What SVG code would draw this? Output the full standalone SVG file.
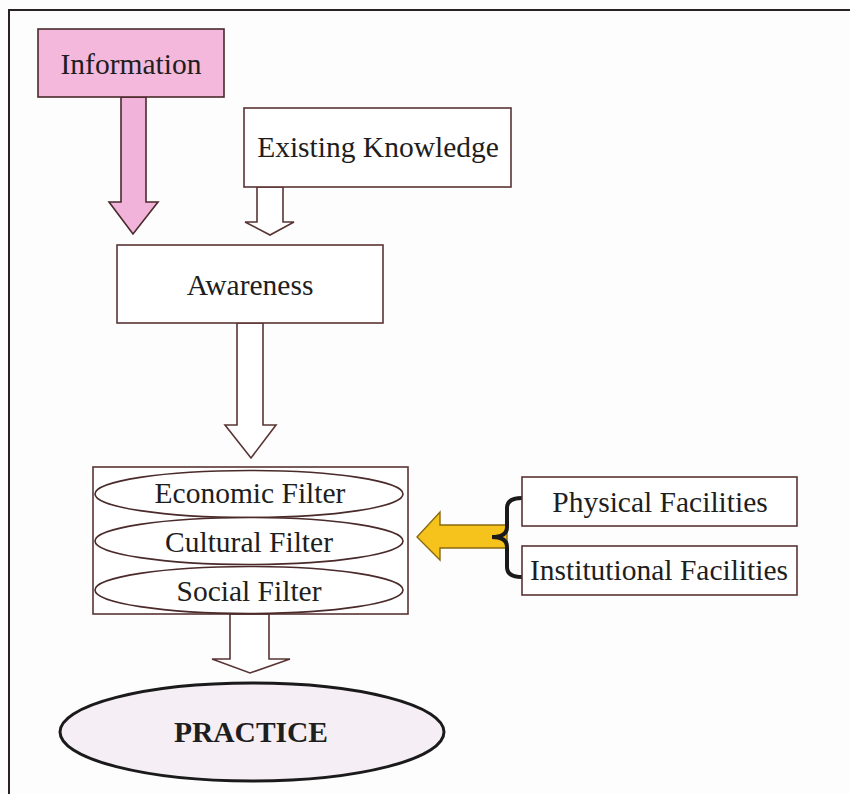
<svg xmlns="http://www.w3.org/2000/svg" width="850" height="794" viewBox="0 0 850 794">
  <style>
    .box { fill: #ffffff; stroke: #5a3434; stroke-width: 1.6; }
    .lbl { font-family: "Liberation Serif", "Times New Roman", serif; font-size: 29.5px; fill: #1e1e1e; text-anchor: middle; }
    .hollow { fill: #ffffff; stroke: #5a3434; stroke-width: 1.6; stroke-linejoin: miter; }
    .filter { fill: #ffffff; stroke: #4a2a2a; stroke-width: 1.6; }
  </style>
  <rect x="0" y="0" width="850" height="794" fill="#fdfdfd"/>
  <!-- frame: top and left rules -->
  <path d="M9,794 V10 H850" fill="none" stroke="#2a2222" stroke-width="2"/>

  <g id="connectors">
    <!-- Information to Awareness (pink block arrow) -->
    <path d="M121,97 H146 V202 H158 L133,234 L109,202 H121 Z" fill="#f2b3da" stroke="#4a2a2a" stroke-width="1.6"/>
    <!-- Existing Knowledge to Awareness -->
    <path class="hollow" d="M257,187 H283 V222 H294 L270,235 L245,222 H257 Z"/>
    <!-- Awareness to filters -->
    <path class="hollow" d="M237,323 H263 V425 H276 L251,458 L225,425 H237 Z"/>
    <!-- filters to practice -->
    <path class="hollow" d="M230,614 H269 V659 H290 L250,673 L212,659 H230 Z"/>
    <!-- facilities brace and yellow arrow into the filters -->
    <path d="M440,525 H507 V548 H440 V560 L417,537 L440,512 Z" fill="#f6c21c" stroke="#8a6a10" stroke-width="1.4"/>
    <path d="M522,498 Q507,498 507,508 V527 Q507,537 492,537 Q507,537 507,547 V567 Q507,577 522,577" fill="none" stroke="#1a1a1a" stroke-width="4"/>
  </g>

  <g id="information">
    <rect x="38" y="29" width="186" height="68" fill="#f3b8db" stroke="#4a2a2a" stroke-width="1.6"/>
    <text class="lbl" x="131" y="74">Information</text>
  </g>

  <g id="existing-knowledge">
    <rect class="box" x="244" y="108" width="267" height="79"/>
    <text class="lbl" x="378" y="157">Existing Knowledge</text>
  </g>

  <g id="awareness">
    <rect class="box" x="117" y="245" width="266" height="78"/>
    <text class="lbl" x="250" y="295">Awareness</text>
  </g>

  <g id="filters">
    <rect class="box" x="93" y="467" width="315" height="147"/>
    <ellipse class="filter" cx="249" cy="494" rx="154" ry="23.5"/>
    <ellipse class="filter" cx="249" cy="541" rx="154" ry="23.5"/>
    <ellipse class="filter" cx="249" cy="590" rx="154" ry="23.5"/>
    <text class="lbl" x="250" y="503">Economic Filter</text>
    <text class="lbl" x="249" y="552">Cultural Filter</text>
    <text class="lbl" x="249" y="601">Social Filter</text>
  </g>

  <g id="physical-facilities">
    <rect class="box" x="522" y="477" width="275" height="49"/>
    <text class="lbl" x="660" y="512">Physical Facilities</text>
  </g>

  <g id="institutional-facilities">
    <rect class="box" x="522" y="546" width="275" height="49"/>
    <text class="lbl" x="659" y="580">Institutional Facilities</text>
  </g>

  <g id="practice">
    <ellipse cx="252" cy="732" rx="192" ry="49" fill="#f5eef5" stroke="#1a1a1a" stroke-width="3"/>
    <text class="lbl" x="251" y="742" font-weight="bold">PRACTICE</text>
  </g>
</svg>
